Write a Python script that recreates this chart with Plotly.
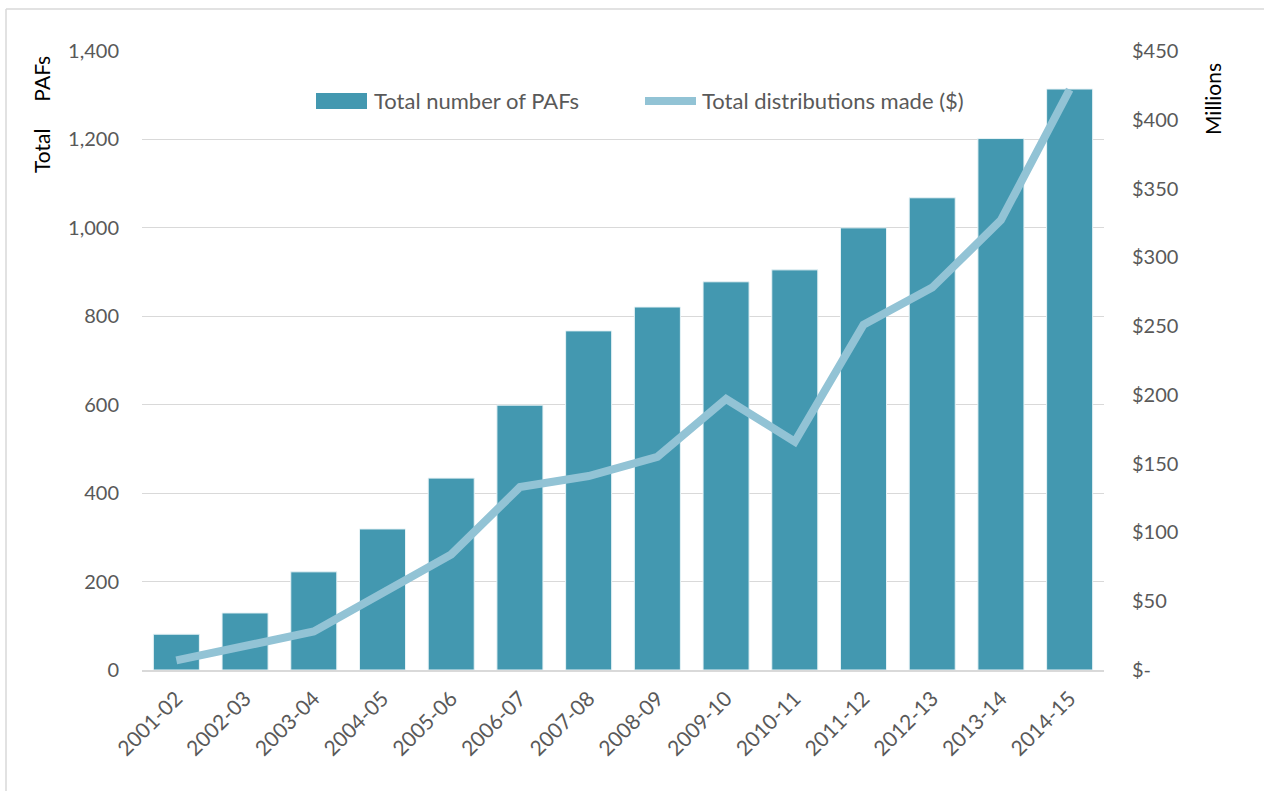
import plotly.graph_objects as go

# Financial years
years = ["2001-02", "2002-03", "2003-04", "2004-05", "2005-06", "2006-07", "2007-08",
         "2008-09", "2009-10", "2010-11", "2011-12", "2012-13", "2013-14", "2014-15"]

# Total number of PAFs (left axis)
paf_counts = [81, 129, 222, 319, 434, 599, 767, 821, 878, 905, 1000, 1068, 1202, 1314]

# Total distributions made, $ millions (right axis)
distributions = [7, 18, 28, 56, 84, 133, 141, 155, 197, 166, 251, 278, 327, 422]

# Axis ticks
left_ticks = [0, 200, 400, 600, 800, 1000, 1200, 1400]
left_tick_text = ["0", "200", "400", "600", "800", "1,000", "1,200", "1,400"]
right_ticks = [0, 50, 100, 150, 200, 250, 300, 350, 400, 450]
right_tick_text = ["$-", "$50", "$100", "$150", "$200", "$250", "$300", "$350", "$400", "$450"]

BAR_NAME = "Total number of PAFs"
LINE_NAME = "Total distributions made ($)"

BAR_COLOR = "#4398B0"
LINE_COLOR = "#92C3D5"
TICK_GRAY = "#595959"
GRID_GRAY = "#D9D9D9"
FONT = "Lato, 'Open Sans', sans-serif"

# plot area in pixels
L, R, T, B = 142, 1104, 51, 670
W, H = R - L, B - T


def px(x):
    return (x - L) / W


def py(y):
    return 1 - (y - T) / H


fig = go.Figure()

fig.add_trace(go.Bar(
    x=years, y=paf_counts, name=BAR_NAME,
    marker=dict(color=BAR_COLOR, line=dict(color="#E8F3F6", width=1)),
    yaxis="y",
))

fig.add_trace(go.Scatter(
    x=years, y=distributions, name=LINE_NAME,
    mode="lines", line=dict(color=LINE_COLOR, width=8),
    yaxis="y2",
))

legend_y = 101

fig.update_layout(
    width=1264, height=791,
    margin=dict(l=L, r=1264 - R, t=T, b=791 - B),
    paper_bgcolor="white", plot_bgcolor="white",
    font=dict(family=FONT, color=TICK_GRAY, size=20),
    bargap=0.33,
    showlegend=False,
    xaxis=dict(
        type="category", tickangle=-45, showgrid=False,
        showline=True, linecolor=GRID_GRAY, linewidth=2,
        ticks="", ticklabelstandoff=6, tickfont=dict(size=21, color=TICK_GRAY),
    ),
    yaxis=dict(
        range=[0, 1400], tickvals=left_ticks, ticktext=left_tick_text,
        showgrid=True, gridcolor=GRID_GRAY, gridwidth=1,
        zeroline=False, showline=False, ticks="",
        ticklabelstandoff=22, tickfont=dict(size=20, color=TICK_GRAY),
    ),
    yaxis2=dict(
        range=[0, 450], tickvals=right_ticks, ticktext=right_tick_text,
        overlaying="y", side="right", showgrid=False, zeroline=False,
        showline=False, ticks="", ticklabelstandoff=27,
        tickfont=dict(size=20, color=TICK_GRAY),
    ),
    annotations=[
        dict(text="Total\u00a0\u00a0\u00a0\u00a0\u00a0PAFs", textangle=-90,
             xref="paper", yref="paper", x=px(42), y=py(115),
             xanchor="center", yanchor="middle", showarrow=False,
             font=dict(size=21, color="black")),
        dict(text="Millions", textangle=-90,
             xref="paper", yref="paper", x=px(1213), y=py(99),
             xanchor="center", yanchor="middle", showarrow=False,
             font=dict(size=21, color="black")),
        # legend labels
        dict(text=BAR_NAME, xref="paper", yref="paper", x=px(372), y=py(legend_y),
             xanchor="left", yanchor="middle", showarrow=False,
             font=dict(size=22, color=TICK_GRAY)),
        dict(text=LINE_NAME, xref="paper", yref="paper", x=px(700), y=py(legend_y),
             xanchor="left", yanchor="middle", showarrow=False,
             font=dict(size=22, color=TICK_GRAY)),
    ],
    shapes=[
        # chart frame (left and top edges)
        dict(type="line", xref="paper", yref="paper",
             x0=px(6), x1=px(6), y0=py(800), y1=py(9),
             line=dict(color=GRID_GRAY, width=1.5)),
        dict(type="line", xref="paper", yref="paper",
             x0=px(6), x1=px(1270), y0=py(9), y1=py(9),
             line=dict(color=GRID_GRAY, width=1.5)),
        # legend swatches
        dict(type="rect", xref="paper", yref="paper",
             x0=px(316), x1=px(367), y0=py(legend_y - 8), y1=py(legend_y + 8),
             fillcolor=BAR_COLOR, line=dict(width=0)),
        dict(type="line", xref="paper", yref="paper",
             x0=px(645), x1=px(696), y0=py(legend_y), y1=py(legend_y),
             line=dict(color=LINE_COLOR, width=8)),
    ],
)

fig.write_html("out.html")
